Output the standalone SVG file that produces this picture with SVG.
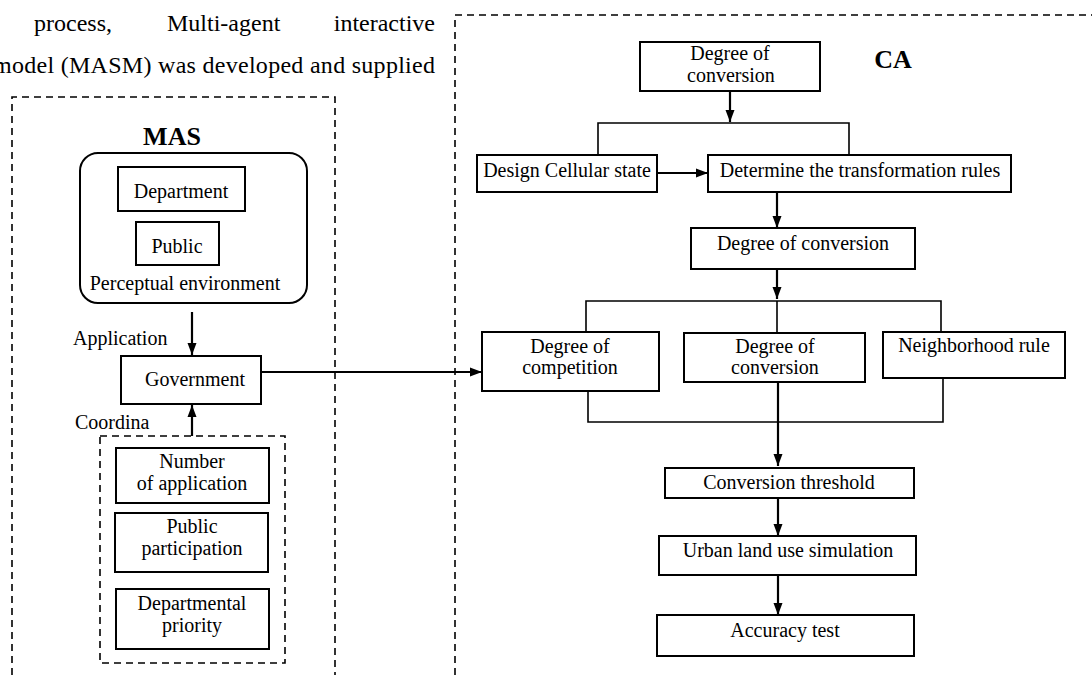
<svg xmlns="http://www.w3.org/2000/svg" width="1092" height="675" viewBox="0 0 1092 675">
<defs>
<style>
text{font-family:"Liberation Serif","Times New Roman",serif;fill:#000}
.t{font-size:20px;text-anchor:middle}
.s{font-size:20px;text-anchor:start}
.body{font-size:24px}
.h{font-size:26px;font-weight:bold;text-anchor:middle}
.box{fill:#fff;stroke:#000;stroke-width:2}
.dash{fill:none;stroke:#000;stroke-width:1.6;stroke-dasharray:7 5}
.ln{fill:none;stroke:#000;stroke-width:1.6}
.ar{fill:none;stroke:#000;stroke-width:2.2;marker-end:url(#ah)}
</style>
<marker id="ah" viewBox="0 0 12 10" refX="12" refY="5" markerWidth="12" markerHeight="10" markerUnits="userSpaceOnUse" orient="auto">
<path d="M0,0.5 L12,5 L0,9.5 z" fill="#000"/>
</marker>
</defs>
<rect width="1092" height="675" fill="#fff"/>
<g id="paragraph">
<text class="body" x="34" y="31">process,</text>
<text class="body" x="167" y="31">Multi-agent</text>
<text class="body" x="435" y="31" text-anchor="end">interactive</text>
<text class="body" x="-7" y="73" textLength="442" lengthAdjust="spacing">model (MASM) was developed and supplied</text>
</g>
<g id="frames">
<path class="dash" d="M12,675 V97 H335 V675"/>
<path class="dash" d="M455,675 V15 H1092"/>
<path class="dash" d="M100,436 H285 V663 H100 Z"/>
</g>
<g id="MAS-title"><text class="h" x="172" y="145">MAS</text></g>
<g id="perceptual-environment">
<rect class="box" x="80" y="153" width="227" height="150" rx="18"/>
<text class="t" x="185" y="290">Perceptual environment</text>
</g>
<g id="department"><rect class="box" x="118" y="167" width="127" height="44"/><text class="t" x="181" y="198">Department</text></g>
<g id="public"><rect class="box" x="136" y="222" width="83" height="43"/><text class="t" x="177" y="253">Public</text></g>
<g id="label-application"><text class="s" x="73" y="345">Application</text></g>
<g id="government"><rect class="box" x="121" y="356" width="140" height="48"/><text class="t" x="195" y="386">Government</text></g>
<g id="label-coordina"><text class="s" x="75" y="429">Coordina</text></g>
<g id="number-of-application"><rect class="box" x="116" y="448" width="153" height="55"/><text class="t" x="192" y="468">Number</text><text class="t" x="192" y="490">of application</text></g>
<g id="public-participation"><rect class="box" x="115" y="513" width="153" height="59"/><text class="t" x="192" y="533">Public</text><text class="t" x="192" y="555">participation</text></g>
<g id="departmental-priority"><rect class="box" x="116" y="589" width="153" height="60"/><text class="t" x="192" y="610">Departmental</text><text class="t" x="192" y="632">priority</text></g>

<g id="CA-title"><text class="h" x="893" y="68">CA</text></g>
<g id="degree-conversion-top"><rect class="box" x="640" y="42" width="180" height="49"/><text class="t" x="730" y="60">Degree of</text><text class="t" x="731" y="82">conversion</text></g>
<g id="design-cellular-state"><rect class="box" x="477" y="155" width="180" height="37"/><text class="t" x="567" y="177">Design Cellular state</text></g>
<g id="determine-rules"><rect class="box" x="708" y="155" width="303" height="37"/><text class="t" x="860" y="177">Determine the transformation rules</text></g>
<g id="degree-conversion-mid"><rect class="box" x="691" y="228" width="224" height="41"/><text class="t" x="803" y="250">Degree of conversion</text></g>
<g id="degree-competition"><rect class="box" x="482" y="332" width="177" height="59"/><text class="t" x="570" y="353">Degree of</text><text class="t" x="570" y="374">competition</text></g>
<g id="degree-conversion-low"><rect class="box" x="684" y="333" width="181" height="49"/><text class="t" x="775" y="353">Degree of</text><text class="t" x="775" y="374">conversion</text></g>
<g id="neighborhood-rule"><rect class="box" x="883" y="332" width="182" height="46"/><text class="t" x="974" y="352">Neighborhood rule</text></g>
<g id="conversion-threshold"><rect class="box" x="665" y="468" width="249" height="30"/><text class="t" x="789" y="489">Conversion threshold</text></g>
<g id="urban-simulation"><rect class="box" x="659" y="536" width="257" height="39"/><text class="t" x="788" y="557">Urban land use simulation</text></g>
<g id="accuracy-test"><rect class="box" x="657" y="615" width="257" height="41"/><text class="t" x="785" y="637">Accuracy test</text></g>

<g id="connectors">
<path class="ar" d="M192,312 V355"/>
<path class="ar" d="M192,436 V405"/>
<path class="ar" d="M261,372 H482"/>
<path class="ar" d="M730,91 V122"/>
<path class="ln" d="M598,155 V123 H849 V155"/>
<path class="ar" d="M657,173 H708"/>
<path class="ar" d="M777,192 V228"/>
<path class="ar" d="M777,269 V299"/>
<path class="ln" d="M586,332 V301 H941 V332 M777,301 V333"/>
<path class="ln" d="M588,391 V422 H943 V378"/>
<path class="ar" d="M778,382 V466"/>
<path class="ar" d="M778,498 V536"/>
<path class="ar" d="M778,575 V615"/>
</g>
</svg>
